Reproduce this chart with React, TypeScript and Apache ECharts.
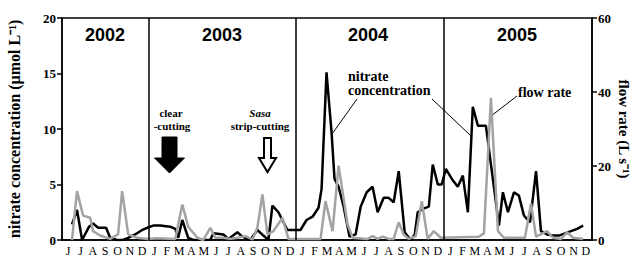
import React, { useEffect, useRef } from "react";
import * as echarts from "echarts";

const yearMonths = ["J", "F", "M", "A", "M", "J", "J", "A", "S", "O", "N", "D"];
const monthLabels = ["J", "J", "A", "S", "O", "N", "D", ...yearMonths, ...yearMonths, ...yearMonths];
const yearBoundaries = [7, 19, 31];

// months since 1 June 2002
const nitrateMonth = [
  0.81, 1.22, 1.63, 2.2, 2.52, 2.93, 3.25, 3.58, 3.9, 4.47, 4.96, 5.37, 5.93, 6.5,
  6.91, 7.4, 7.97, 8.78, 9.19, 9.43, 9.76, 10.24, 10.65, 12.03, 12.28, 13.09, 13.5,
  14.23, 14.63, 15.28, 15.85, 16.34, 16.75, 17.07, 17.56, 18.29, 18.78,
  19.35, 19.84, 20.33, 20.81, 21.06, 21.46, 21.87, 22.11, 22.44, 22.85, 23.33, 23.82,
  24.23, 24.72, 25.2, 25.61, 26.1, 26.5, 26.91, 27.32, 27.8, 28.29, 28.62, 28.86,
  29.27, 29.76, 30.08, 30.49, 30.81,
  31.14, 31.63, 32.11, 32.52, 32.93, 33.33, 33.74, 34.39, 35.45, 35.77, 36.18, 36.67,
  37.07, 37.48, 37.97, 38.46, 38.86, 39.35, 39.84, 40.33, 40.81, 41.3, 41.79, 42.28,
];
const nitrateValue = [
  1.4, 2.7, 0, 1.2, 1.5, 1.1, 1.1, 1.1, 0.2, 0, 0, 0.2, 0.5, 0.9,
  1.1, 1.3, 1.3, 1.2, 1.0, 0.2, 1.8, 0.2, 0, 0, 0.6, 0.5, 0.1,
  0.7, 0.3, 0, 0.9, 0.4, 0, 3.1, 2.5, 0.9, 0.9,
  0.9, 1.8, 2.1, 2.9, 4.6, 15.1, 9.7, 5.5, 4.8, 3.0, 0.3, 0.5,
  3.0, 4.3, 4.8, 2.5, 3.8, 3.8, 3.4, 6.2, 0.7, 0, 0.5, 2.5,
  2.8, 3.0, 6.8, 5.0, 5.0,
  6.4, 5.5, 4.8, 5.8, 2.5, 12.0, 10.3, 10.3, 1.3, 4.3, 2.5, 4.3,
  4.0, 2.2, 1.6, 6.2, 0.8, 0.5, 0.4, 0.4, 0.6, 0.8, 1.0, 1.3,
];

const flowMonth = [
  0.81, 1.22, 1.71, 2.28, 2.52, 3.09, 3.9, 4.55, 4.88, 5.37, 6.1, 6.91,
  7.72, 9.19, 9.76, 10.24, 10.98, 11.46, 12.03, 12.44, 13.09, 13.66, 14.23, 14.88,
  15.45, 15.85, 16.26, 16.67, 17.15, 17.89, 18.37,
  20.98, 21.38, 21.95, 22.44, 23.17, 23.58, 24.8, 25.2, 25.61, 26.02, 26.5, 26.91,
  27.32, 27.72, 28.13, 28.7, 29.19, 29.67, 30.16, 30.73,
  33.82, 34.23, 34.8, 35.37, 35.85, 37.56, 38.05, 38.46, 39.35, 39.84, 40.49, 40.98,
  41.46, 42.28,
];
const flowValue = [
  0, 13.2, 6.6, 6.0, 2.4, 1.2, 0.3, 1.5, 13.2, 1.5, 0.6, 0.3,
  0.45, 0.3, 9.6, 3.6, 0.6, 0, 3.3, 0.6, 0.6, 0.3, 0.6, 1.05,
  0.15, 3.3, 12.3, 1.5, 2.4, 6.0, 0.3,
  0.3, 10.5, 2.4, 20.1, 4.2, 0.6, 0.3, 1.05, 0.3, 0.9, 0.3, 0.3,
  4.8, 1.5, 0.3, 1.05, 10.5, 0.3, 2.4, 0.6,
  0.9, 1.8, 38.4, 2.4, 0.6, 0.6, 9.9, 0.9, 2.4, 0.6, 0.3, 2.1,
  0.6, 0.3,
];

const years = ["2002", "2003", "2004", "2005"];
const yearLabelX = [105, 222, 368, 517];

const SERIF = '"Liberation Serif", "Times New Roman", serif';
const SANS = '"Liberation Sans", Arial, sans-serif';

export default function App() {
  const ref = useRef<HTMLDivElement>(null);
  useEffect(() => {
    if (!ref.current) return;
    const chart = echarts.init(ref.current, undefined, { renderer: "svg" });
    const boldSerif = (size: number) => `bold ${size}px ${SERIF}`;
    const txt = (text: string, x: number, y: number, font: string, align = "center") => ({
      type: "text",
      x,
      y,
      style: { text, font, fill: "#000", textAlign: align, textVerticalAlign: "middle" },
    });
    chart.setOption({
      animation: false,
      backgroundColor: "#fff",
      grid: {
        left: 62,
        right: 42,
        top: 18,
        bottom: 25,
        outerBoundsMode: "none",
        containLabel: false,
        show: true,
        borderColor: "#000",
        borderWidth: 1.5,
        backgroundColor: "transparent",
      },
      xAxis: [
        {
          type: "category",
          data: monthLabels,
          boundaryGap: true,
          axisLine: { lineStyle: { color: "#000", width: 1.5 } },
          axisTick: { length: 5, lineStyle: { color: "#000", width: 1.5 } },
          axisLabel: {
            interval: 0,
            color: "#000",
            fontFamily: SERIF,
            fontSize: 12,
            margin: 5,
          },
          splitLine: { show: false },
        },
        {
          type: "value",
          min: 0,
          max: 43,
          show: false,
          splitLine: { show: false },
        },
      ],
      yAxis: [
        {
          type: "value",
          min: 0,
          max: 20,
          interval: 5,
          position: "left",
          name: "nitrate concentration (µmol L⁻¹)",
          nameLocation: "middle",
          nameGap: 40,
          nameTextStyle: { color: "#000", fontFamily: SERIF, fontWeight: "bold", fontSize: 16 },
          axisLine: { show: true, lineStyle: { color: "#000", width: 1.5 } },
          axisTick: { show: true, length: 5, lineStyle: { color: "#000", width: 1.5 } },
          axisLabel: { color: "#000", fontFamily: SERIF, fontWeight: "bold", fontSize: 13, margin: 6 },
          splitLine: { show: false },
        },
        {
          type: "value",
          min: 0,
          max: 60,
          interval: 20,
          position: "right",
          name: "flow rate (L s⁻¹)",
          nameLocation: "middle",
          nameRotate: -90,
          nameGap: 24,
          nameMoveOverlap: false,
          nameTextStyle: { color: "#000", fontFamily: SERIF, fontWeight: "bold", fontSize: 15 },
          axisLine: { show: true, lineStyle: { color: "#000", width: 1.5 } },
          axisTick: { show: true, length: 5, lineStyle: { color: "#000", width: 1.5 } },
          axisLabel: { color: "#000", fontFamily: SERIF, fontWeight: "bold", fontSize: 13, margin: 6 },
          splitLine: { show: false },
        },
      ],
      series: [
        {
          name: "nitrate",
          type: "line",
          xAxisIndex: 1,
          yAxisIndex: 0,
          data: nitrateMonth.map((m, i) => [m, nitrateValue[i]]),
          showSymbol: false,
          lineStyle: { color: "#000", width: 2.5 },
          itemStyle: { color: "#000" },
          z: 3,
          markLine: {
            silent: true,
            symbol: "none",
            label: { show: false },
            lineStyle: { color: "#000", width: 1.5, type: "solid" },
            data: yearBoundaries.map((b) => ({ xAxis: b })),
          },
        },
        {
          name: "flow",
          type: "line",
          xAxisIndex: 1,
          yAxisIndex: 1,
          data: flowMonth.map((m, i) => [m, flowValue[i]]),
          showSymbol: false,
          lineStyle: { color: "#a3a3a3", width: 2.5 },
          itemStyle: { color: "#a3a3a3" },
          z: 4,
        },
      ],
      graphic: [
        ...years.map((y, i) => txt(y, yearLabelX[i], 35, `bold 18px ${SANS}`)),
        txt("clear", 171, 113, boldSerif(11)),
        txt("-cutting", 172, 126, boldSerif(11)),
        txt("Sasa", 260, 113, `italic bold 11px ${SERIF}`),
        txt("strip-cutting", 260, 126, boldSerif(11)),
        {
          type: "polygon",
          shape: {
            points: [
              [162, 137], [177, 137], [177, 158], [184.5, 158], [169.5, 173], [154.5, 158], [162, 158],
            ],
          },
          style: { fill: "#000", stroke: "#000", lineWidth: 1 },
        },
        {
          type: "polygon",
          shape: {
            points: [
              [264, 138], [271, 138], [271, 158], [276, 158], [267.5, 172], [259, 158], [264, 158],
            ],
          },
          style: { fill: "#fff", stroke: "#000", lineWidth: 2 },
        },
        txt("nitrate", 348, 76, boldSerif(14), "left"),
        txt("concentration", 348, 90, boldSerif(14), "left"),
        txt("flow rate", 518, 92, boldSerif(14), "left"),
        {
          type: "line",
          shape: { x1: 357, y1: 99, x2: 332, y2: 134 },
          style: { stroke: "#000", lineWidth: 1 },
        },
        {
          type: "line",
          shape: { x1: 432, y1: 99, x2: 471, y2: 136 },
          style: { stroke: "#000", lineWidth: 1 },
        },
        {
          type: "line",
          shape: { x1: 517, y1: 96, x2: 491, y2: 116 },
          style: { stroke: "#000", lineWidth: 1 },
        },
      ],
    });
    return () => chart.dispose();
  }, []);
  return (
    <div
      ref={ref}
      style={{ position: "fixed", left: 0, top: 0, width: 634, height: 265, background: "#fff" }}
    />
  );
}
